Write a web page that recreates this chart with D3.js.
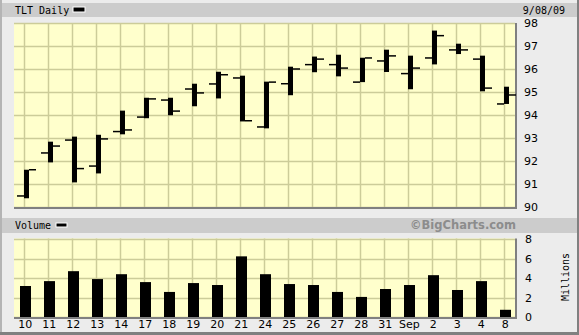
<!DOCTYPE html>
<head lang="en">
<meta charset="utf-8">
<title>TLT Daily</title>
<style>
body { margin:0; background:#ececec; }
text { font-family:"DejaVu Sans","Verdana",sans-serif; font-size:11px; fill:#000; }
.mono { font-family:"DejaVu Sans Mono","Liberation Mono",monospace; font-size:10px; }
</style>
<script src="https://cdnjs.cloudflare.com/ajax/libs/d3/7.8.5/d3.min.js"></script>
</head>
<body>
<script>
// Trading days (Aug 10 - Sep 8, 2009) and OHLC prices
var days   = ["10","11","12","13","14","17","18","19","20","21","24","25","26","27","28","31","Sep","2","3","4","8"];
var opens  = [90.48,92.35,92.91,91.78,93.28,93.91,94.65,95.13,95.35,95.61,93.48,95.36,96.19,96.19,95.43,96.35,95.80,96.48,96.83,96.43,94.48];
var highs  = [91.62,92.84,93.06,93.14,94.19,94.75,94.75,95.36,95.88,95.71,95.45,96.10,96.54,96.62,96.49,96.84,96.58,97.67,97.10,96.58,95.23];
var lows   = [90.38,91.94,91.07,91.46,93.16,93.86,93.99,94.38,94.72,93.72,93.42,94.86,95.86,95.68,95.43,95.87,95.12,96.20,96.65,95.03,94.48];
var closes = [91.62,92.65,91.67,92.96,93.35,94.70,94.17,94.96,95.75,93.75,95.43,96.00,96.43,96.04,96.48,96.57,96.04,97.45,96.83,95.17,94.87];
// Volume in millions
var volumes = [3.18,3.68,4.70,3.89,4.39,3.58,2.57,3.48,3.28,6.22,4.39,3.38,3.28,2.57,2.06,2.87,3.28,4.29,2.77,3.68,0.74];
var priceTicks = [90,91,92,93,94,95,96,97,98];
var volTicks = [0,2,4,6,8];

var width = 579, height = 335;
var svg = d3.select("body").append("svg")
	.attr("width", width)
	.attr("height", height)
	.style("display", "block");

var gridColor = "#cccc99";

// frame: light left edge, dark right and bottom edges
svg.append("rect").attr("x", 0).attr("y", 0).attr("width", width).attr("height", height).style("fill", "#ececec");
svg.append("rect").attr("x", 0).attr("y", 0).attr("width", 2).attr("height", height).style("fill", "#b4b4b4");
svg.append("rect").attr("x", 577).attr("y", 0).attr("width", 2).attr("height", height).style("fill", "#808080");
svg.append("rect").attr("x", 0).attr("y", 332).attr("width", width).attr("height", 3).style("fill", "#808080");

// header bars
svg.append("rect").attr("x", 2).attr("y", 3).attr("width", 575).attr("height", 14).style("fill", "#cccccc");
svg.append("rect").attr("x", 2).attr("y", 218).attr("width", 575).attr("height", 15).style("fill", "#cccccc");

svg.append("text").attr("class", "mono").attr("x", 15).attr("y", 14).text("TLT Daily");
svg.append("rect").attr("x", 73).attr("y", 7).attr("width", 12).attr("height", 5).style("fill", "#000").style("stroke", "#fff").style("stroke-width", 1);
svg.append("text").attr("class", "mono").attr("x", 565).attr("y", 14).attr("text-anchor", "end").text("9/08/09");

svg.append("text").attr("class", "mono").attr("x", 15).attr("y", 229).text("Volume");
svg.append("rect").attr("x", 56).attr("y", 223).attr("width", 11).attr("height", 4).style("fill", "#000").style("stroke", "#fff").style("stroke-width", 1);
svg.append("text").attr("x", 516).attr("y", 229).attr("text-anchor", "end")
	.style("font-weight", "bold").style("fill", "#8c8c8c").style("font-size", "11.5px")
	.text("\u00a9BigCharts.com");

// scales
var x = d3.scaleBand().domain(days).range([12.3, 516.3]);
var cx = function(d) { return x(d) + x.bandwidth() / 2; };
var yPrice = d3.scaleLinear().domain([90, 98]).range([207, 23]);
var yVol = d3.scaleLinear().domain([0, 8]).range([317, 239]);

// draw a panel background with grid
function panel(y, ticks, top, bottom) {
	svg.append("rect").attr("x", 14).attr("y", top).attr("width", 501).attr("height", bottom - top).style("fill", "#ffffcc");
	svg.append("g").selectAll("line").data(ticks).enter().append("line")
		.attr("x1", 14).attr("x2", 515)
		.attr("y1", function(d) { return Math.round(y(d)) + 0.5; })
		.attr("y2", function(d) { return Math.round(y(d)) + 0.5; })
		.style("stroke", gridColor).style("stroke-width", 1.5);
	svg.append("g").selectAll("line").data(days).enter().append("line")
		.attr("x1", function(d) { return Math.round(cx(d)) + 0.5; })
		.attr("x2", function(d) { return Math.round(cx(d)) + 0.5; })
		.attr("y1", top).attr("y2", bottom)
		.style("stroke", gridColor).style("stroke-width", 1.5);
	// shadow on bottom and right edge
	svg.append("rect").attr("x", 14).attr("y", bottom).attr("width", 503).attr("height", 2).style("fill", "#808080");
	svg.append("rect").attr("x", 515).attr("y", top).attr("width", 2).attr("height", bottom - top).style("fill", "#808080");
}
panel(yPrice, priceTicks, 23, 207);
panel(yVol, volTicks, 238.5, 317);

// price OHLC bars
var bars = svg.append("g").selectAll("g").data(days).enter().append("g");
bars.append("rect")
	.attr("x", function(d) { return Math.round(cx(d)); })
	.attr("y", function(d, i) { return yPrice(highs[i]); })
	.attr("width", 5)
	.attr("height", function(d, i) { return yPrice(lows[i]) - yPrice(highs[i]); })
	.style("fill", "#000");
bars.append("line")
	.attr("x1", function(d) { return Math.round(cx(d)) - 7; })
	.attr("x2", function(d) { return Math.round(cx(d)); })
	.attr("y1", function(d, i) { return yPrice(opens[i]); })
	.attr("y2", function(d, i) { return yPrice(opens[i]); })
	.style("stroke", "#000").style("stroke-width", 1.5);
bars.append("line")
	.attr("x1", function(d) { return Math.round(cx(d)) + 5; })
	.attr("x2", function(d) { return Math.round(cx(d)) + 12; })
	.attr("y1", function(d, i) { return yPrice(closes[i]); })
	.attr("y2", function(d, i) { return yPrice(closes[i]); })
	.style("stroke", "#000").style("stroke-width", 1.5);

// volume bars
svg.append("g").selectAll("rect").data(days).enter().append("rect")
	.attr("x", function(d) { return Math.round(cx(d)) - 4; })
	.attr("y", function(d, i) { return yVol(volumes[i]); })
	.attr("width", 11)
	.attr("height", function(d, i) { return yVol(0) - yVol(volumes[i]); })
	.style("fill", "#000");

// axes (text only, the grid serves as ticks)
svg.append("g").selectAll("text").data(priceTicks).enter().append("text")
	.attr("x", 524).attr("y", function(d) { return yPrice(d) + 4; })
	.text(function(d) { return d; });
svg.append("g").selectAll("text").data(volTicks).enter().append("text")
	.attr("x", 525).attr("y", function(d) { return yVol(d) + 4; })
	.text(function(d) { return d; });
svg.append("g").selectAll("text").data(days).enter().append("text")
	.attr("x", function(d) { return cx(d) + 1; }).attr("y", 328)
	.attr("text-anchor", "middle")
	.text(function(d) { return d; });
svg.append("text").attr("class", "mono")
	.attr("transform", "translate(569,277) rotate(-90)")
	.attr("text-anchor", "middle")
	.text("Millions");
</script>
</body>
</html>
